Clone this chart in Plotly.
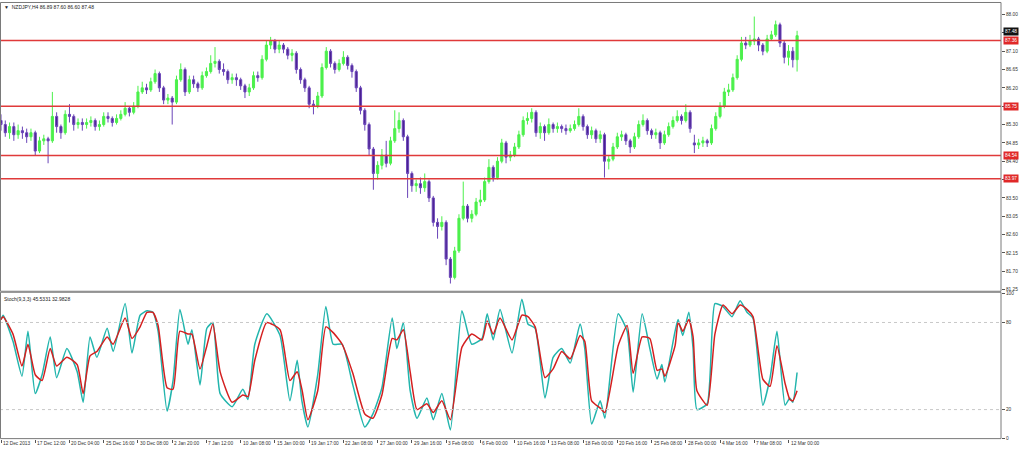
import plotly.graph_objects as go

# ---------------- data ----------------
opens = [85.40,85.30,85.10,85.25,85.05,85.15,85.10,85.00,85.10,84.65,84.90,84.95,84.90,85.50,85.25,85.10,85.55,85.50,85.30,85.35,
         85.30,85.35,85.40,85.25,85.30,85.50,85.45,85.35,85.45,85.55,85.70,85.60,85.75,86.10,86.20,86.15,86.35,86.55,86.20,85.90,
         85.95,85.85,86.40,86.65,86.10,86.40,86.30,86.20,86.50,86.60,86.80,86.85,86.65,86.60,86.40,86.45,86.40,86.25,86.10,86.20,
         86.50,86.45,86.90,87.25,87.35,87.15,87.25,87.15,87.00,87.05,86.65,86.40,86.20,85.80,85.75,86.00,86.70,87.10,86.80,86.65,
         86.80,86.95,86.75,86.60,86.20,85.65,85.30,84.70,84.10,84.30,84.55,84.35,84.90,85.20,85.40,85.00,84.10,83.80,83.85,83.75,
         83.90,83.50,82.90,82.80,82.90,82.00,81.55,82.20,83.00,83.30,83.00,83.10,83.40,83.45,83.90,84.25,84.00,84.40,84.85,84.50,
         84.55,84.75,85.05,85.40,85.45,85.60,85.10,85.25,85.10,85.30,85.20,85.25,85.20,85.15,85.20,85.30,85.50,85.25,85.05,85.15,
         84.95,85.05,84.40,84.45,84.75,85.00,85.05,84.90,84.75,85.00,85.30,85.40,85.15,85.05,85.10,84.85,85.05,85.25,85.40,85.50,
         85.40,85.60,84.85,84.80,84.85,84.90,84.85,85.20,85.50,85.75,86.10,86.15,86.45,86.90,87.30,87.25,87.35,87.40,87.25,87.10,
         87.40,87.50,87.75,87.30,86.95,87.10,86.89]
closes = [85.30,85.10,85.25,85.05,85.15,85.10,85.00,85.10,84.65,84.90,84.95,84.90,85.50,85.25,85.10,85.55,85.50,85.30,85.35,85.30,
          85.35,85.40,85.25,85.30,85.50,85.45,85.35,85.45,85.55,85.70,85.60,85.75,86.10,86.20,86.15,86.35,86.55,86.20,85.90,85.95,
          85.85,86.40,86.65,86.10,86.40,86.30,86.20,86.50,86.60,86.80,86.85,86.65,86.60,86.40,86.45,86.40,86.25,86.10,86.20,86.50,
          86.45,86.90,87.25,87.35,87.15,87.25,87.15,87.00,87.05,86.65,86.40,86.20,85.80,85.75,86.00,86.70,87.10,86.80,86.65,86.80,
          86.95,86.75,86.60,86.20,85.65,85.30,84.70,84.10,84.30,84.55,84.35,84.90,85.20,85.40,85.00,84.10,83.80,83.85,83.75,83.90,
          83.50,82.90,82.80,82.90,82.00,81.55,82.20,83.00,83.30,83.00,83.10,83.40,83.45,83.90,84.25,84.00,84.40,84.85,84.50,84.55,
          84.75,85.05,85.40,85.45,85.60,85.10,85.25,85.10,85.30,85.20,85.25,85.20,85.15,85.20,85.30,85.50,85.25,85.05,85.15,84.95,
          85.05,84.40,84.45,84.75,85.00,85.05,84.90,84.75,85.00,85.30,85.40,85.15,85.05,85.10,84.85,85.05,85.25,85.40,85.50,85.40,
          85.60,85.20,84.80,84.85,84.90,84.85,85.20,85.50,85.75,86.10,86.15,86.45,86.90,87.30,87.25,87.35,87.40,87.25,87.10,87.40,
          87.50,87.75,87.30,86.95,87.10,86.89,87.48]
highs = [85.55,85.40,85.35,85.35,85.30,85.25,85.20,85.20,85.15,85.00,85.05,85.00,86.10,85.60,85.30,85.65,85.80,85.55,85.45,85.45,
         85.45,85.50,85.45,85.40,85.60,85.60,85.50,85.55,85.65,85.85,85.75,85.85,86.25,86.35,86.30,86.45,86.65,86.60,86.25,86.05,
         86.00,86.50,86.80,86.70,86.50,86.50,86.35,86.60,86.70,87.00,87.20,86.90,86.80,86.65,86.55,86.55,86.45,86.30,86.30,86.60,
         86.60,87.00,87.35,87.45,87.40,87.35,87.30,87.20,87.15,87.10,86.70,86.45,86.25,85.90,86.10,86.80,87.20,87.15,86.85,86.90,
         87.10,87.00,86.80,86.65,86.25,85.70,85.35,84.75,84.40,84.70,84.90,85.00,85.65,85.60,85.45,85.05,84.15,83.95,84.00,84.10,
         83.95,83.55,83.00,83.05,82.95,82.05,82.30,83.10,83.90,83.35,83.20,83.50,83.70,84.00,84.45,84.30,84.50,84.95,84.90,84.65,
         84.85,85.15,85.50,85.60,85.70,85.65,85.35,85.30,85.45,85.35,85.35,85.30,85.30,85.30,85.40,85.70,85.55,85.30,85.25,85.20,
         85.15,85.10,84.55,84.85,85.10,85.15,85.10,84.95,85.10,85.40,85.55,85.45,85.20,85.20,85.15,85.15,85.35,85.50,85.65,85.55,
         85.80,85.65,85.05,84.95,85.00,84.95,85.30,85.60,85.85,86.20,86.30,86.55,87.00,87.45,87.45,87.50,87.95,87.45,87.30,87.50,
         87.60,87.85,87.80,87.35,87.25,87.20,87.60]
lows = [85.15,85.00,84.95,84.90,84.95,84.95,84.85,84.90,84.55,84.60,84.80,84.35,84.85,85.10,84.95,85.05,85.35,85.15,85.20,85.15,
        85.20,85.25,85.15,85.15,85.25,85.35,85.25,85.30,85.40,85.50,85.50,85.55,85.70,86.05,86.05,86.10,86.30,86.10,85.80,85.80,
        85.30,85.80,86.35,86.00,86.05,86.20,86.10,86.15,86.45,86.55,86.70,86.55,86.50,86.30,86.30,86.25,86.15,85.95,86.00,86.15,
        86.35,86.40,86.85,87.15,87.05,87.05,87.05,86.90,86.85,86.55,86.30,86.10,85.70,85.55,85.70,85.95,86.65,86.70,86.55,86.60,
        86.75,86.65,86.45,86.10,85.55,85.15,84.55,83.70,83.95,84.20,84.25,84.30,84.85,85.10,84.90,83.50,83.65,83.65,83.60,83.65,
        83.40,82.80,82.50,82.70,81.85,81.40,81.50,82.15,82.95,82.90,82.90,83.05,83.30,83.40,83.85,83.90,83.95,84.35,84.35,84.40,
        84.50,84.70,85.00,85.30,85.35,85.00,84.95,84.90,85.05,85.10,85.10,85.10,85.05,85.10,85.15,85.25,85.15,84.95,84.95,84.85,
        84.85,84.00,84.20,84.40,84.70,84.90,84.80,84.60,84.70,84.95,85.25,85.05,84.95,84.95,84.70,84.80,85.00,85.20,85.35,85.30,
        85.35,85.10,84.60,84.70,84.75,84.75,84.80,85.15,85.45,85.70,86.00,86.10,86.40,86.85,87.15,87.20,87.25,87.10,87.00,87.05,
        87.35,87.45,87.20,86.80,86.75,86.70,86.60]

# stochastic (9,3,3): %K (main) and %D (signal), read at bar positions
stoch_pos = [0,0.5,2.8,4.9,6.3,8,9.6,11.5,13,15.4,17.8,19.2,20.8,22.4,24.8,26.2,29,30.6,32.5,34.1,35.5,36.7,38.8,40.2,41.8,
             43.7,44.6,46.5,48.1,49.5,51.2,54,56.5,57.7,59.3,62.1,65.2,67.5,69.2,70.3,71.7,74,75.9,77.6,79.7,82.2,85,86.9,
             89,91.4,92.5,94,95.6,97.2,99.5,101,103,105,107.7,110,112.4,113.6,115,116.6,119.4,121.7,123.1,124.8,127.1,129,
             131,133,135.3,136.4,138,140,141.1,144.2,146.3,147.7,149.8,151.6,153.3,154.4,155.1,157.5,158.2,159.3,160.7,161.7,
             162.6,165,166.8,168.7,170.8,172.7,174.3,175.7,178,179.7,181.3,183.2,184.3,185,186]
stoch_k = [82,85,67,43,74,31,44,70,42,62,46,25,70,56,76,60,93,59,85,88,87,74,19,40,89,
           65,75,37,76,80,31,22,34,27,65,86,71,26,54,26,8,44,91,65,65,37,8,17,
           35,83,62,80,33,14,28,13,31,6,88,65,69,86,68,89,59,96,79,76,28,56,
           62,52,79,62,10,26,14,86,74,32,86,62,41,51,39,74,82,71,87,62,
           20,24,93,91,84,95,87,83,23,42,74,23,28,25,45.53]
stoch_d = [82,84,72,50,65,44,40,62,50,56,51,31,57,60,70,65,83,69,77,87,87,78,35,34,74,
           72,72,48,64,79,46,25,30,29,54,80,75,40,46,34,13,33,77,73,65,45,17,14,
           30,69,68,75,46,20,24,18,26,13,63,72,68,81,72,83,68,85,84,77,42,48,
           60,55,71,67,26,21,18,64,78,45,70,69,47,48,43,64,80,74,82,70,
           33,23,72,92,86,92,89,84,41,36,64,38,27,26,32.98]

date_labels = ["12 Dec 2013","17 Dec 12:00","20 Dec 04:00","25 Dec 16:00","30 Dec 08:00","2 Jan 20:00",
               "7 Jan 12:00","10 Jan 08:00","15 Jan 00:00","19 Jan 17:00","22 Jan 08:00","27 Jan 00:00",
               "29 Jan 16:00","3 Feb 08:00","6 Feb 00:00","10 Feb 16:00","13 Feb 08:00","18 Feb 00:00",
               "20 Feb 16:00","25 Feb 08:00","28 Feb 00:00","4 Mar 16:00","7 Mar 08:00","12 Mar 00:00"]
bars_per_label = 8
price_ticks = [88.00,87.55,87.10,86.65,86.20,85.75,85.30,84.85,84.40,83.95,83.50,83.05,82.60,82.15,81.70,81.25]
levels = [87.36,85.75,84.54,83.97]
stoch_ticks = [0,20,80,100]
stoch_levels = [20,80]
header = "NZDJPY,H4 86.89 87.60 86.60 87.48"
stoch_title = "Stoch(9,3,3) 45.5331 32.9828"

# ---------------- figure ----------------
W, H = 1024, 452
def px(x): return x / W
def py(y): return 1 - y / H

PLOT_R = 1001
FONT = "Liberation Sans"
FS = 4.8
FRAME = "#7a7a7a"
idx = list(range(len(closes)))
tick_pos = [k * bars_per_label for k in range(len(date_labels))]

fig = go.Figure()
fig.add_trace(go.Candlestick(
    x=idx, open=opens, high=highs, low=lows, close=closes,
    increasing=dict(line=dict(color="#4cf04c", width=1), fillcolor="#4cf04c"),
    decreasing=dict(line=dict(color="#6a45b8", width=1), fillcolor="#4a2090"),
    whiskerwidth=0, xaxis="x", yaxis="y", showlegend=False, hoverinfo="skip"))

fig.add_trace(go.Scatter(x=stoch_pos, y=stoch_k, mode="lines",
                         line=dict(color="#22b5ad", width=1.5, shape="spline", smoothing=0.5),
                         xaxis="x2", yaxis="y2", showlegend=False, hoverinfo="skip"))
fig.add_trace(go.Scatter(x=stoch_pos, y=stoch_d, mode="lines",
                         line=dict(color="#d42020", width=1.5, shape="spline", smoothing=0.5),
                         xaxis="x2", yaxis="y2", showlegend=False, hoverinfo="skip"))

xr = [-0.234, (PLOT_R - 1) / 4.28]
dom_x = [0, px(PLOT_R)]
fig.update_layout(
    width=W, height=H, margin=dict(l=0, r=0, t=0, b=0), autosize=False,
    paper_bgcolor="white", plot_bgcolor="white",
    font=dict(family=FONT, size=FS, color="#222"),
    boxgap=0.3,
    xaxis=dict(domain=dom_x, range=xr, anchor="y", showticklabels=False, showgrid=False,
               zeroline=False, rangeslider=dict(visible=False), fixedrange=True),
    yaxis=dict(domain=[py(292.5), py(1.5)], range=[81.21, 88.27], side="right", anchor="x",
               tickvals=price_ticks, ticktext=[f"{v:.2f}" for v in price_ticks],
               ticks="outside", ticklen=3, tickcolor="#555", tickfont=dict(size=FS, color="#333"),
               showgrid=False, zeroline=False),
    xaxis2=dict(domain=dom_x, range=xr, anchor="y2", tickvals=tick_pos,
                ticktext=["" for _ in tick_pos], ticks="outside", ticklen=3, tickcolor="#555",
                showgrid=False, zeroline=False),
    yaxis2=dict(domain=[py(441.5), py(294.7)], range=[0, 100], side="right", anchor="x2",
                tickvals=stoch_ticks, ticktext=[str(v) for v in stoch_ticks],
                ticks="outside", ticklen=3, tickcolor="#555", tickfont=dict(size=FS, color="#333"),
                showgrid=False, zeroline=False),
)

shapes = []
for lv in levels:
    shapes.append(dict(type="line", xref="paper", yref="y", x0=0, x1=px(PLOT_R), y0=lv, y1=lv,
                       line=dict(color="#e03a3a", width=1.5)))
for lv in stoch_levels:
    shapes.append(dict(type="line", xref="paper", yref="y2", x0=0, x1=px(PLOT_R), y0=lv, y1=lv,
                       line=dict(color="#c8c8c8", width=1, dash="dot")))
shapes.append(dict(type="rect", xref="paper", yref="paper", x0=px(0.5), x1=px(PLOT_R), y0=py(292.5), y1=py(0.5),
                   line=dict(color=FRAME, width=1)))
shapes.append(dict(type="rect", xref="paper", yref="paper", x0=px(0.5), x1=px(PLOT_R), y0=py(441.5), y1=py(293.5),
                   line=dict(color=FRAME, width=1)))
fig.update_layout(shapes=shapes)

ann = []
ann.append(dict(xref="paper", yref="paper", x=px(2), y=py(5.5), xanchor="left", yanchor="middle",
                text="▼  " + header, showarrow=False, font=dict(size=5, color="#222")))
ann.append(dict(xref="paper", yref="paper", x=px(2), y=py(300), xanchor="left", yanchor="middle",
                text=stoch_title, showarrow=False, font=dict(size=5, color="#222")))
for pos, lab in zip(tick_pos, date_labels):
    ann.append(dict(xref="x2", yref="paper", x=pos, y=py(446.5), xanchor="left", yanchor="middle",
                    xshift=0, text=lab, showarrow=False, font=dict(size=FS, color="#333")))
for lv in levels:
    ann.append(dict(xref="paper", yref="y", x=px(PLOT_R + 2), y=lv, xanchor="left", yanchor="middle",
                    text=f"{lv:.2f}", showarrow=False, bgcolor="#e02828", borderpad=1,
                    font=dict(size=FS, color="white")))
ann.append(dict(xref="paper", yref="y", x=px(PLOT_R + 2), y=closes[-1], yshift=4, xanchor="left", yanchor="middle",
                text=f"{closes[-1]:.2f}", showarrow=False, bgcolor="#111", borderpad=1,
                font=dict(size=FS, color="white")))
fig.update_layout(annotations=ann)

fig.write_html("out.html", config={"displayModeBar": False},
               post_script="document.body.style.margin='0';document.body.style.overflow='hidden';")
